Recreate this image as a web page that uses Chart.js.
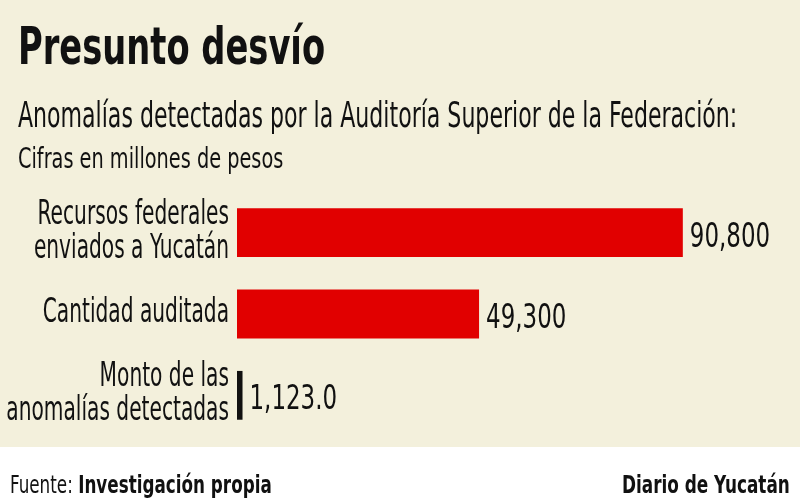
<!DOCTYPE html>
<html lang="es">
<head>
<meta charset="utf-8">
<script src="https://cdn.jsdelivr.net/npm/chart.js@4/dist/chart.umd.min.js"></script>
<style>
    body { margin: 0; width: 800px; height: 500px; overflow: hidden; background: #fff; font-family: "Liberation Sans Narrow", "DejaVu Sans Condensed", sans-serif; }
    #lienzo { position: absolute; left: 0; top: 0; width: 800px; height: 447px; background: #f3f0dc; }
    #grafico { position: absolute; left: 0; top: 0; width: 800px; height: 500px; }
    .texto { position: absolute; white-space: nowrap; color: #111; transform-origin: 0 0; line-height: 1; }
    #titulo { left: 18px; top: 20px; font-size: 52px; font-weight: bold; }
    #subtitulo { left: 18px; top: 98px; font-size: 35px; }
    #unidad { left: 18px; top: 144px; font-size: 29px; }
    #fuente { left: 10px; top: 472px; font-size: 25px; }
    #diario { left: 622px; top: 472px; font-size: 25px; font-weight: bold; }
</style>
</head>
<body>
<div id="lienzo"></div>
<div id="grafico"><canvas id="barras"></canvas></div>
<div class="texto" id="titulo" data-ancho="307">Presunto desvío</div>
<div class="texto" id="subtitulo" data-ancho="719">Anomalías detectadas por la Auditoría Superior de la Federación:</div>
<div class="texto" id="unidad" data-ancho="265">Cifras en millones de pesos</div>
<div class="texto" id="fuente" data-ancho="262">Fuente: <b>Investigación propia</b></div>
<div class="texto" id="diario" data-ancho="168">Diario de Yucatán</div>
<script>
const categorias = [
    ['Recursos federales', 'enviados a Yucatán'],
    'Cantidad auditada',
    ['Monto de las', 'anomalías detectadas']
]
const valores = [90800, 49300, 1123]
const etiquetasValor = ['90,800', '49,300', '1,123.0']
const coloresBarra = ['#e10000', '#e10000', '#111111']

const fuenteCondensada = '"Liberation Sans Narrow", "DejaVu Sans Condensed", sans-serif'

// ajusta el ancho de los textos al de la referencia
function ajustarTextos() {
    document.querySelectorAll('.texto').forEach(el => {
        const ancho = parseFloat(el.dataset.ancho)
        const escala = ancho / el.offsetWidth
        el.style.transform = `scaleX(${escala})`
    })
}

// texto estrecho: la fuente de la referencia es mas angosta que las instaladas
function textoEstrecho(ctx, texto, x, y, compresion) {
    ctx.save()
    ctx.translate(x, y)
    ctx.scale(compresion, 1)
    ctx.fillText(texto, 0, 0)
    ctx.restore()
}

const etiquetasCategorias = {
    id: 'etiquetasCategorias',
    afterDraw(chart) {
        const ctx = chart.ctx
        const escalaY = chart.scales.y
        ctx.save()
        ctx.fillStyle = '#111'
        ctx.font = `33px ${fuenteCondensada}`
        ctx.textAlign = 'right'
        ctx.textBaseline = 'alphabetic'
        categorias.forEach((cat, i) => {
            const lineas = Array.isArray(cat) ? cat : [cat]
            const centro = escalaY.getPixelForValue(i)
            lineas.forEach((linea, j) => {
                const base = centro + (j - (lineas.length - 1) / 2) * 34 + 8
                textoEstrecho(ctx, linea, escalaY.right - 8, base, 0.68)
            })
        })
        ctx.restore()
    }
}

const etiquetasBarras = {
    id: 'etiquetasBarras',
    afterDatasetsDraw(chart) {
        const ctx = chart.ctx
        const meta = chart.getDatasetMeta(0)
        ctx.save()
        ctx.fillStyle = '#111'
        ctx.font = `34px ${fuenteCondensada}`
        ctx.textAlign = 'left'
        ctx.textBaseline = 'alphabetic'
        meta.data.forEach((barra, i) => {
            textoEstrecho(ctx, etiquetasValor[i], barra.x + 7, barra.y + 14, 0.75)
        })
        ctx.restore()
    }
}

function renderizarGrafico() {
    const ctx = document.getElementById('barras').getContext('2d')
    new Chart(ctx, {
        type: 'bar',
        data: {
            labels: categorias,
            datasets: [{
                data: valores,
                backgroundColor: coloresBarra,
                borderWidth: 0,
                categoryPercentage: 1,
                barPercentage: 0.6
            }]
        },
        options: {
            indexAxis: 'y',
            responsive: true,
            maintainAspectRatio: false,
            animation: false,
            layout: {
                padding: { left: 0, right: 72, top: 192, bottom: 64 }
            },
            scales: {
                x: {
                    display: false,
                    min: 0,
                    max: 100000
                },
                y: {
                    grid: { display: false },
                    border: { display: false },
                    afterFit: escala => { escala.width = 237 },
                    ticks: { display: false }
                }
            },
            plugins: {
                legend: { display: false },
                tooltip: { enabled: false }
            }
        },
        plugins: [etiquetasCategorias, etiquetasBarras]
    })
}

ajustarTextos()
renderizarGrafico()
</script>
</body>
</html>
